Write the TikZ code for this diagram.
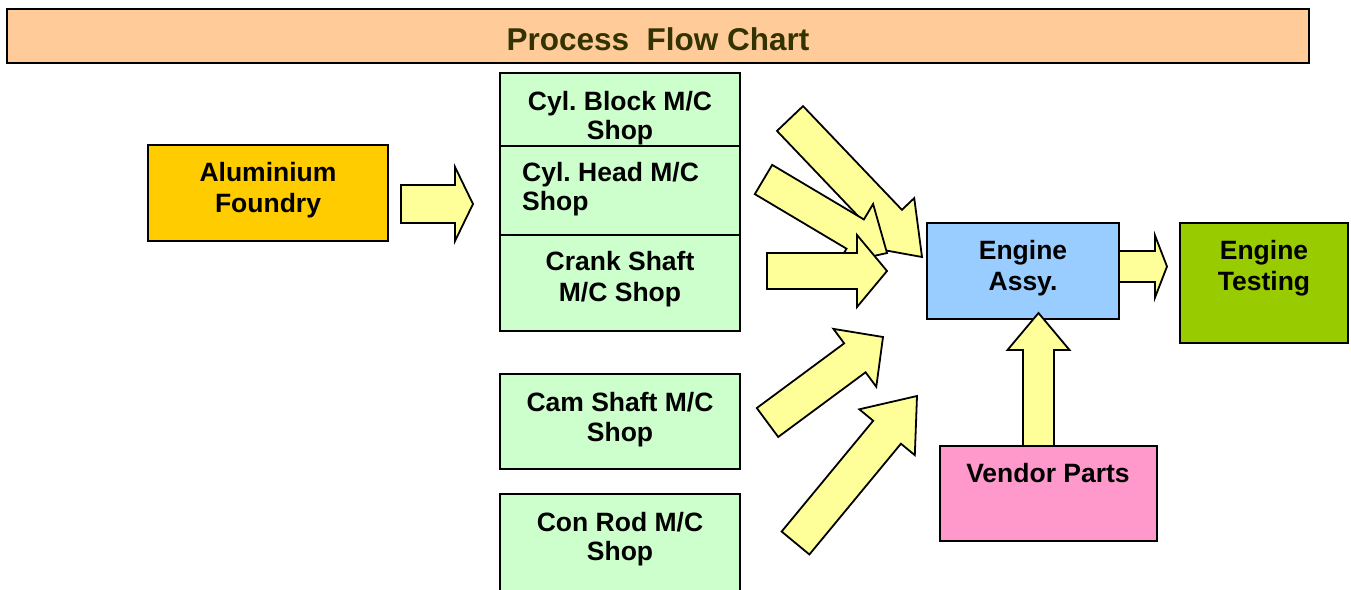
\documentclass[tikz,border=0pt]{standalone}
\usepackage{fontspec}
\setmainfont{Liberation Sans}
\usetikzlibrary{calc}
\frenchspacing
\definecolor{titlefill}{HTML}{FFCC99}
\definecolor{titletext}{HTML}{333300}
\definecolor{foundryfill}{HTML}{FFCC00}
\definecolor{shopfill}{HTML}{CCFFCC}
\definecolor{assyfill}{HTML}{99CCFF}
\definecolor{testfill}{HTML}{99CC00}
\definecolor{vendorfill}{HTML}{FF99CC}
\definecolor{arrowfill}{HTML}{FFFF99}
% #1 name, #2 tail, #3 tip, #4 shaft half width, #5 head half width, #6 head length
\newcommand\blkarrow[6]{%
  \coordinate (#1-t) at #2;
  \coordinate (#1-p) at #3;
  \coordinate (#1-b) at ($(#1-p)!#6!(#1-t)$);
  \draw[fatarrow] ($(#1-t)!#4!90:(#1-p)$) -- ($(#1-b)!#4!90:(#1-p)$)
    -- ($(#1-b)!#5!90:(#1-p)$) -- (#1-p) -- ($(#1-b)!#5!-90:(#1-p)$)
    -- ($(#1-b)!#4!-90:(#1-p)$) -- ($(#1-t)!#4!-90:(#1-p)$) -- cycle;
}
\begin{document}
\begin{tikzpicture}[x=1pt,y=-1pt,
  box/.style={draw=black,line width=1.6pt,inner sep=0pt,outer sep=0pt},
  lbl/.style={inner sep=0pt,anchor=base,font=\fontsize{26.5}{30}\selectfont\bfseries},
  fatarrow/.style={draw=black,fill=arrowfill,line width=1.8pt,line join=miter}]
\useasboundingbox (0,0) rectangle (1351,589);
\clip (0,0) rectangle (1351,589);
% title
\node[box,fill=titlefill,minimum width=1302pt,minimum height=54pt] (title) at (658,36) {};
\node[inner sep=0pt,anchor=base,text=titletext,font=\fontsize{31.5}{36}\selectfont\bfseries] (titletext) at (658,50) {Process\ \ Flow Chart};
% boxes
\node[box,fill=foundryfill,minimum width=240pt,minimum height=96pt] (foundry) at (268,193) {};
\node[box,fill=shopfill,minimum width=240pt,minimum height=73pt] (block) at (620,109.5) {};
\node[box,fill=shopfill,minimum width=240pt,minimum height=89pt] (head) at (620,190.5) {};
\node[box,fill=shopfill,minimum width=240pt,minimum height=96pt] (crank) at (620,283) {};
\node[box,fill=shopfill,minimum width=240pt,minimum height=95pt] (cam) at (620,421.5) {};
\node[box,fill=shopfill,minimum width=240pt,minimum height=106pt] (conrod) at (620,547) {};
\node[box,fill=assyfill,minimum width=192pt,minimum height=96pt] (assy) at (1023,271) {};
\node[box,fill=testfill,minimum width=168pt,minimum height=120pt] (testing) at (1264,283) {};
\node[box,fill=vendorfill,minimum width=217pt,minimum height=95pt] (vendor) at (1048.5,493.5) {};
% texts
\node[lbl] (foundry-a) at (268,181) {Aluminium};
\node[lbl] (foundry-b) at (268,212) {Foundry};
\node[lbl] (block-a) at (620,110) {Cyl. Block M/C};
\node[lbl] (block-b) at (620,139) {Shop};
\node[lbl,anchor=base west] (head-a) at (522,181) {Cyl. Head M/C};
\node[lbl,anchor=base west] (head-b) at (522,210) {Shop};
\node[lbl] (crank-a) at (620,270) {Crank Shaft};
\node[lbl] (crank-b) at (620,301) {M/C Shop};
\node[lbl] (cam-a) at (620,411) {Cam Shaft M/C};
\node[lbl] (cam-b) at (620,441) {Shop};
\node[lbl] (conrod-a) at (620,531) {Con Rod M/C};
\node[lbl] (conrod-b) at (620,560) {Shop};
\node[lbl] (assy-a) at (1023,259) {Engine};
\node[lbl] (assy-b) at (1023,290) {Assy.};
\node[lbl] (testing-a) at (1264,259) {Engine};
\node[lbl] (testing-b) at (1264,290) {Testing};
\node[lbl] (vendor-a) at (1048,482) {Vendor Parts};
% block arrows
\blkarrow{af}{(401,204)}{(473,204)}{19pt}{37pt}{18pt}
\blkarrow{aa}{(790,118.5)}{(922,257)}{18pt}{35pt}{48pt}
\blkarrow{ab}{(763.5,179.5)}{(887,253)}{17pt}{35pt}{37pt}
\blkarrow{ac}{(767,271)}{(887,271)}{18pt}{36pt}{30pt}
\blkarrow{ad}{(767.5,422.5)}{(883,337)}{18pt}{36pt}{35pt}
\blkarrow{ae}{(795.5,543)}{(917,396)}{18pt}{36pt}{47pt}
\blkarrow{av}{(1038.5,446)}{(1038.5,313)}{15.5pt}{31pt}{37pt}
\blkarrow{at}{(1119,266.5)}{(1167,266.5)}{15.5pt}{31pt}{12pt}
\end{tikzpicture}
\end{document}
